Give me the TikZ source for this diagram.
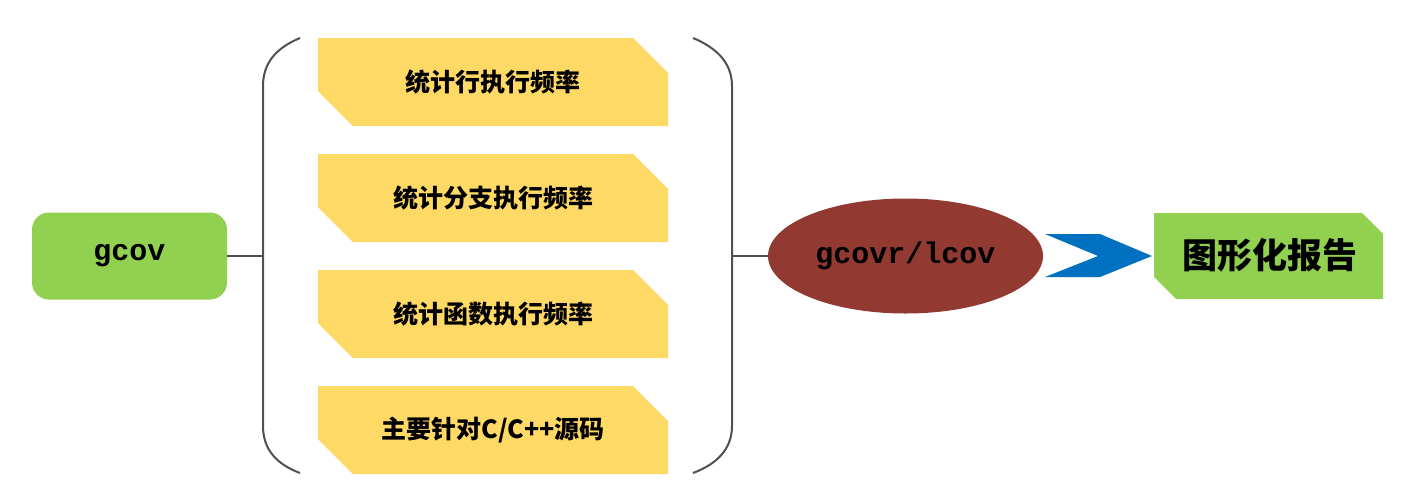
\documentclass[tikz,border=0pt]{standalone}
\usepackage{fontspec}
\setmonofont{Liberation Mono}
\newfontfamily\cjk{Noto Sans CJK SC}
\usetikzlibrary{shapes.geometric}
\definecolor{ygreen}{HTML}{92D050}
\definecolor{yyellow}{HTML}{FFD966}
\definecolor{dred}{HTML}{923A32}
\definecolor{cblue}{HTML}{0070C0}
\definecolor{lgray}{HTML}{505050}
\begin{document}
\begin{tikzpicture}[x=1pt,y=-1pt,
  conn/.style={draw=lgray,line width=2pt},
  brk/.style={draw=lgray,line width=2pt},
  boxtext/.style={inner sep=0pt,font=\cjk\bfseries\fontsize{25}{29}\selectfont},
  gcovbox/.style={fill=ygreen,rounded corners=17pt,minimum width=195pt,minimum height=87pt,inner sep=0pt,font=\ttfamily\bfseries\fontsize{30}{32}\selectfont},
  toolell/.style={ellipse,fill=dred,minimum width=275pt,minimum height=115pt,inner sep=0pt,font=\ttfamily\bfseries\fontsize{30}{32}\selectfont},
  reptext/.style={inner sep=0pt,font=\cjk\bfseries\fontsize{35}{40}\selectfont}]
\useasboundingbox (0,0) rectangle (1427,499);
\fill[white] (0,0) rectangle (1427,499);
% gcov
\node[gcovbox] (gcov) at (129.5,256) {gcov};
% bracket
\draw[brk] (300,38) .. controls (276,48) and (263,63) .. (263,86) -- (263,426) .. controls (263,449) and (276,464) .. (300,473);
\draw[brk] (693,38) .. controls (717,48) and (732,63) .. (732,86) -- (732,426) .. controls (732,449) and (717,464) .. (693,473);
\coordinate (bl) at (263,256);
\coordinate (br) at (732,256);
% yellow boxes
\foreach \y in {38,154,270,386}{
  \fill[yyellow] (318,\y) -- (633,\y) -- (668,\y+35) -- (668,\y+88) -- (353,\y+88) -- (318,\y+53) -- cycle;
}
\node[boxtext] (t1) at (493,82) {统计行执行频率};
\node[boxtext] (t2) at (493,198) {统计分支执行频率};
\node[boxtext] (t3) at (493,314) {统计函数执行频率};
\node[boxtext] (t4) at (493,430) {主要针对C/C++源码};
% ellipse
\node[toolell] (tool) at (905.5,256) {gcovr/lcov};
% chevron
\fill[cblue] (1045,234) -- (1100,234) -- (1152,256) -- (1100,277) -- (1045,277) -- (1098,256) -- cycle;
% report
\fill[ygreen] (1154,213) -- (1362,213) -- (1383,234) -- (1383,299) -- (1176,299) -- (1154,277) -- cycle;
\node[reptext] (rep) at (1270,255) {图形化报告};
% connectors
\draw[conn] (gcov.east) -- (bl);
\draw[conn] (br) -- (tool.west);
\end{tikzpicture}
\end{document}
